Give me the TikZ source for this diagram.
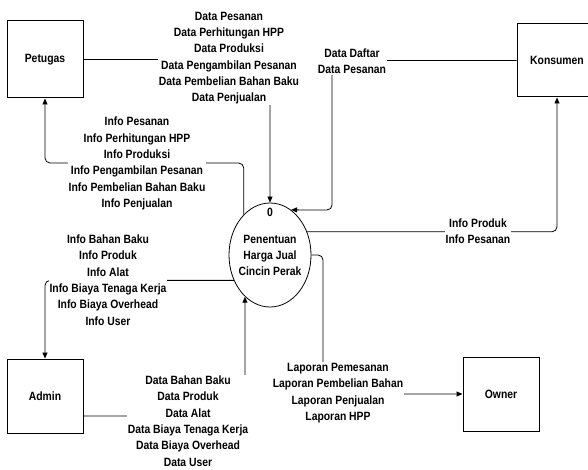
\documentclass[tikz,border=0pt]{standalone}
\usepackage{fontspec}
\setmainfont{Liberation Sans}[FakeStretch=0.865]
\usetikzlibrary{shapes.geometric,arrows.meta}

\begin{document}
\begin{tikzpicture}[x=1pt,y=-1pt,
  every node/.style={font=\fontsize{12}{16.3}\selectfont\bfseries},
  entity/.style={draw,line width=1pt,rectangle,minimum width=76pt,minimum height=76pt,inner sep=0pt},
  process/.style={draw,line width=0.8pt,ellipse,minimum width=82pt,minimum height=104pt,inner sep=0pt},
  flow/.style={draw,line width=0.8pt,rounded corners=5pt,-{Triangle[length=6pt,width=5pt]}},
  flowlabel/.style={fill=white,inner sep=1pt,align=center}]

\useasboundingbox (0,0) rectangle (588,470);

% external entities
\node[entity,minimum height=77pt] (petugas) at (45,59.5) {Petugas};
\node[entity,minimum width=80pt,minimum height=73pt] (konsumen) at (557,60.5) {Konsumen};
\node[entity,minimum height=74pt] (admin) at (45,396) {Admin};
\node[entity,minimum height=74pt] (owner) at (501,394) {Owner};

% process 0
\node[process] (proc) at (270,255) {};
\node[align=center] (proctext) at (270,242) {0\\[10.7pt]Penentuan\\Harga Jual\\Cincin Perak};

% bend points
\coordinate (kbend) at (332,210);
\coordinate (obend) at (323,0);
\coordinate (abend) at (245,416);
\coordinate (pbend) at (45,163);

% data flows
\draw[flow] (petugas.east) -| (proc.north);
\draw[flow] (proc.123) |- (pbend) -- (petugas.south);
\draw[flow] (konsumen.west) -| (kbend) -- (proc.65);
\draw[flow] (proc.32) -| (konsumen.south);
\draw[flow] (proc.east) -- (proc.east -| obend) |- (owner.west);
\draw[flow] (admin.east |- abend) -| (proc.239);
\draw[flow] (proc.215) -| (admin.north);

% flow labels
\node[flowlabel] (lpin) at (229,58) {Data Pesanan\\Data Perhitungan HPP\\Data Produksi\\Data Pengambilan Pesanan\\Data Pembelian Bahan Baku\\Data Penjualan};
\node[flowlabel] (lpout) at (137,163.5) {Info Pesanan\\Info Perhitungan HPP\\Info Produksi\\Info Pengambilan Pesanan\\Info Pembelian Bahan Baku\\Info Penjualan};
\node[flowlabel] (lkin) at (352,61) {Data Daftar\\Data Pesanan};
\node[flowlabel] (lkout) at (478,231) {Info Produk\\Info Pesanan};
\node[flowlabel] (laout) at (108,280) {Info Bahan Baku\\Info Produk\\Info Alat\\Info Biaya Tenaga Kerja\\Info Biaya Overhead\\Info User};
\node[flowlabel] (lain) at (188,421) {Data Bahan Baku\\Data Produk\\Data Alat\\Data Biaya Tenaga Kerja\\Data Biaya Overhead\\Data User};
\node[flowlabel] (lown) at (338,393) {Laporan Pemesanan\\Laporan Pembelian Bahan\\Laporan Penjualan\\Laporan HPP};
\end{tikzpicture}
\end{document}
